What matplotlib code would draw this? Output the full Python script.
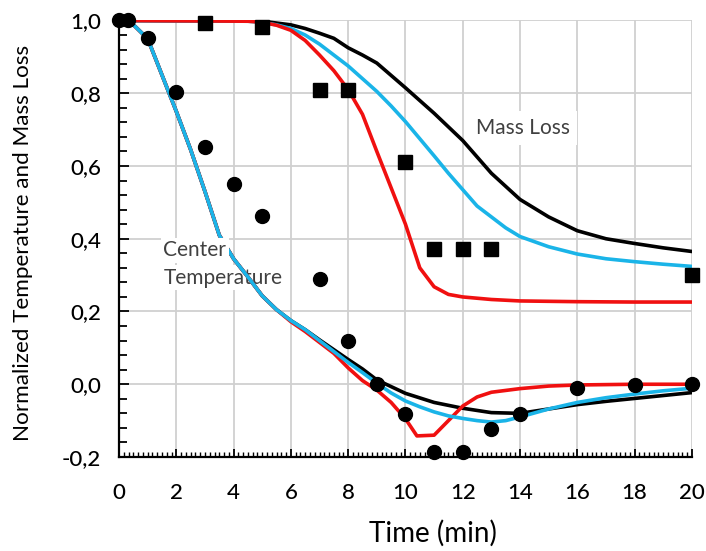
import matplotlib
matplotlib.use("Agg")
import matplotlib.pyplot as plt
from matplotlib.ticker import MultipleLocator, FuncFormatter

plt.rcParams['font.family'] = ['Lato', 'DejaVu Sans']
plt.rcParams['font.weight'] = 500

# experimental points
temp_exp_t = [0, 0.3, 1, 2, 3, 4, 5, 7, 8, 9, 10, 11, 12, 13, 14, 16, 18, 20]
temp_exp_y = [1.0, 1.0, 0.953, 0.804, 0.653, 0.551, 0.463, 0.289, 0.119, 0.0,
              -0.082, -0.185, -0.185, -0.124, -0.082, -0.011, -0.003, 0.0]
mass_exp_t = [3, 5, 7, 8, 10, 11, 12, 13, 20]
mass_exp_y = [0.993, 0.982, 0.81, 0.808, 0.61, 0.371, 0.371, 0.371, 0.30]

# model curves - center temperature
t_temp_black = [0, 0.35, 1, 1.5, 2, 2.5, 3, 3.5, 4, 4.5, 5, 5.5, 6, 6.5, 7, 7.5, 8,
                8.5, 9, 10, 11, 12, 13, 14, 15, 16, 17, 18, 19, 20]
y_temp_black = [1.0, 1.0, 0.95, 0.85, 0.75, 0.645, 0.53, 0.41, 0.345, 0.295, 0.243,
                0.205, 0.175, 0.15, 0.122, 0.095, 0.068, 0.042, 0.012, -0.025,
                -0.05, -0.066, -0.078, -0.08, -0.068, -0.056, -0.047, -0.039,
                -0.031, -0.023]
t_temp_cyan = [0, 0.35, 1, 1.5, 2, 2.5, 3, 3.5, 4, 4.5, 5, 5.5, 6, 6.5, 7, 7.5, 8,
               8.5, 9, 9.5, 10, 10.5, 11, 11.5, 12, 12.5, 13, 13.5, 14, 15, 16, 17,
               18, 19, 20]
y_temp_cyan = [1.0, 1.0, 0.95, 0.85, 0.75, 0.645, 0.53, 0.41, 0.345, 0.295, 0.243,
               0.205, 0.175, 0.15, 0.12, 0.09, 0.06, 0.032, 0.003, -0.024, -0.046,
               -0.062, -0.076, -0.087, -0.094, -0.1, -0.104, -0.1, -0.09, -0.068,
               -0.05, -0.037, -0.027, -0.018, -0.011]
t_temp_red = [0, 0.35, 1, 1.5, 2, 2.5, 3, 3.5, 4, 4.5, 5, 5.5, 6, 6.5, 7, 7.5, 8,
              8.5, 9, 9.5, 10, 10.4, 11, 11.5, 12, 12.5, 13, 14, 15, 16, 18, 20]
y_temp_red = [1.0, 1.0, 0.95, 0.85, 0.75, 0.645, 0.53, 0.41, 0.345, 0.295, 0.243,
              0.205, 0.172, 0.145, 0.115, 0.085, 0.045, 0.01, -0.016, -0.05,
              -0.095, -0.142, -0.14, -0.1, -0.06, -0.035, -0.022, -0.012, -0.005,
              -0.002, 0.0, 0.0]

# model curves - mass loss
t_mass_black = [0, 5, 6, 6.5, 7, 7.5, 8, 8.5, 9, 10, 11, 12, 13, 14, 15, 16, 17,
                18, 19, 20]
y_mass_black = [1.0, 0.998, 0.988, 0.978, 0.965, 0.951, 0.925, 0.905, 0.883, 0.815,
                0.745, 0.67, 0.58, 0.508, 0.46, 0.422, 0.4, 0.387, 0.375, 0.365]
t_mass_cyan = [0, 4.5, 5, 5.5, 6, 6.5, 7, 7.5, 8, 8.5, 9, 9.5, 10, 10.5, 11, 11.5,
               12, 12.5, 13, 13.5, 14, 15, 16, 17, 18, 19, 20]
y_mass_cyan = [1.0, 0.998, 0.995, 0.988, 0.978, 0.96, 0.935, 0.905, 0.875, 0.84,
               0.805, 0.765, 0.722, 0.675, 0.628, 0.58, 0.535, 0.49, 0.46, 0.43,
               0.406, 0.378, 0.358, 0.345, 0.337, 0.33, 0.324]
t_mass_red = [0, 4.5, 5, 5.5, 6, 6.5, 7, 7.5, 8, 8.5, 9, 9.5, 10, 10.5, 11, 11.5,
              12, 13, 14, 16, 18, 20]
y_mass_red = [1.0, 0.998, 0.995, 0.987, 0.973, 0.945, 0.905, 0.862, 0.81, 0.742,
              0.64, 0.54, 0.44, 0.32, 0.268, 0.247, 0.24, 0.233, 0.229, 0.227,
              0.226, 0.226]

RED = '#f01010'
CYAN = '#1ab4e8'
lw = 2.6

fig = plt.figure(figsize=(7.06, 5.51), dpi=100)
ax = fig.add_axes([0.1686, 0.1706, 0.8114, 0.7922])

ax.plot(t_mass_black, y_mass_black, color='black', lw=lw, zorder=3)
ax.plot(t_mass_cyan, y_mass_cyan, color=CYAN, lw=lw, zorder=3)
ax.plot(t_mass_red, y_mass_red, color=RED, lw=lw, zorder=3)
ax.plot(t_temp_black, y_temp_black, color='black', lw=lw, zorder=3)
ax.plot(t_temp_red, y_temp_red, color=RED, lw=lw, zorder=3)
ax.plot(t_temp_cyan, y_temp_cyan, color=CYAN, lw=lw, zorder=3)

ax.plot(temp_exp_t, temp_exp_y, 'o', color='black', ms=10, ls='none',
        zorder=5, clip_on=False)
ax.plot(mass_exp_t, mass_exp_y, 's', color='black', ms=10.5, ls='none',
        zorder=5, clip_on=False)

ax.set_xlim(0, 20)
ax.set_ylim(-0.2, 1.0)
ax.xaxis.set_major_locator(MultipleLocator(2))
ax.xaxis.set_minor_locator(MultipleLocator(1 / 6))
ax.yaxis.set_major_locator(MultipleLocator(0.2))
ax.yaxis.set_minor_locator(MultipleLocator(0.04))
ax.yaxis.set_major_formatter(FuncFormatter(lambda v, p: f"{v:.1f}".replace('.', ',')))

ax.grid(True, which='major', color='#d0d0d0', lw=1.3, zorder=0)
ax.set_axisbelow(True)
for s in ['top', 'right']:
    ax.spines[s].set_visible(False)
for s in ['left', 'bottom']:
    ax.spines[s].set_linewidth(1.6)

ax.tick_params(axis='both', which='major', direction='in', width=1.3,
               labelsize=16, colors='black')
ax.tick_params(axis='y', which='major', length=7, pad=13)
ax.tick_params(axis='y', which='minor', direction='in', length=6, width=1.3)
ax.tick_params(axis='x', which='major', length=6, pad=19)
ax.tick_params(axis='x', which='minor', direction='in', length=3.5, width=1.0)

ax.set_xlabel("Time (min)", fontsize=20)
ax.xaxis.label.set_va('center')
ax.xaxis.set_label_coords(0.548, -0.174)
ax.set_ylabel("Normalized Temperature and Mass Loss", fontsize=16.2)
ax.yaxis.label.set_va('center')
ax.yaxis.set_label_coords(-0.168, 0.49)

ax.text(1.55, 0.368, "Center", fontsize=15, color='#404040', va='center',
        fontweight='normal',
        bbox=dict(facecolor='white', edgecolor='none', pad=2), zorder=4)
ax.text(1.55, 0.293, "Temperature", fontsize=15, color='#404040', va='center',
        fontweight='normal',
        bbox=dict(facecolor='white', edgecolor='none', pad=2), zorder=2)
ax.text(14.1, 0.705, "Mass Loss", fontsize=15, color='#404040', va='center',
        ha='center', fontweight='normal',
        bbox=dict(facecolor='white', edgecolor='none', pad=5), zorder=2)

fig.savefig("out.png", dpi=100, facecolor='white')
